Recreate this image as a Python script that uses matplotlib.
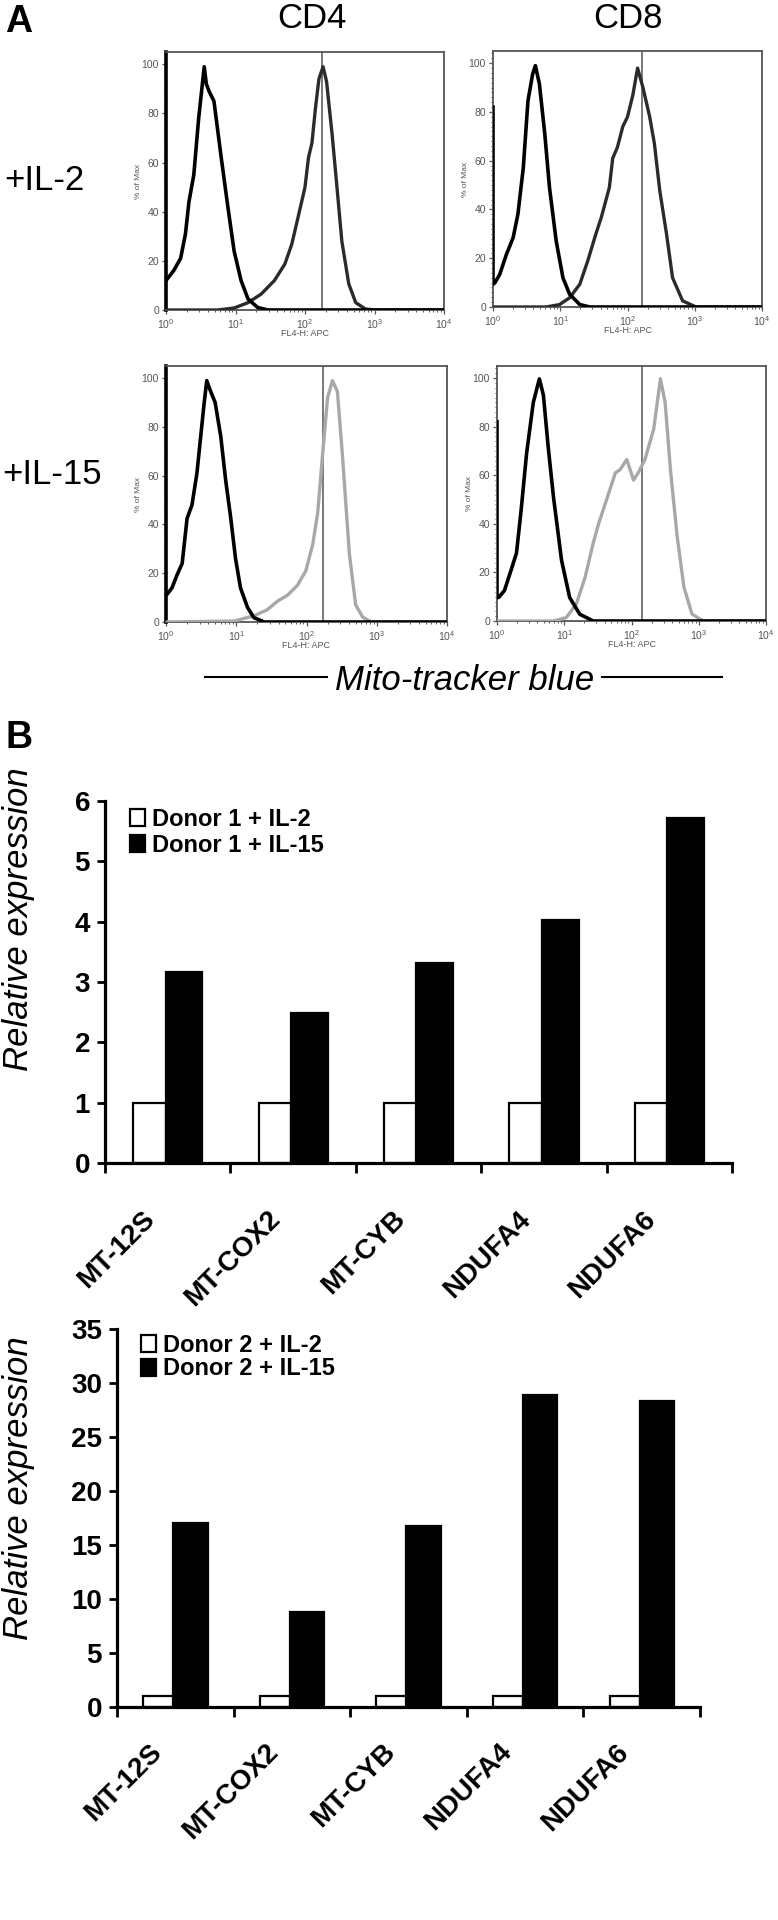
import numpy as np
import matplotlib
matplotlib.use('Agg')
import matplotlib.pyplot as plt
from matplotlib.ticker import MultipleLocator, LogLocator, NullFormatter

plt.rcParams['font.family'] = ['Liberation Sans', 'DejaVu Sans']

W, H = 778, 1920
fig = plt.figure(figsize=(W / 100, H / 100), dpi=100)


def box(x0, y0, x1, y1):
    # pixel box (top-left origin) -> figure axes
    return fig.add_axes([x0 / W, 1 - y1 / H, (x1 - x0) / W, (y1 - y0) / H])


# ---- panel A: histograms, x in log10(FL4-H), y in % of max ----
cd4_il2_neg_x = [0, 0.11, 0.21, 0.28, 0.33, 0.40, 0.47, 0.55, 0.58, 0.62, 0.69, 0.79, 0.89, 0.98, 1.08, 1.18, 1.32, 1.47, 4.0]
cd4_il2_neg_y = [12, 16, 21, 31, 44, 55, 78, 99, 92, 89, 85, 63, 42, 24, 12, 4.5, 1, 0, 0]
cd4_il2_pos_x = [0, 0.74, 0.98, 1.18, 1.37, 1.56, 1.71, 1.81, 1.90, 2.0, 2.05, 2.10, 2.15, 2.20, 2.26, 2.31, 2.39, 2.46, 2.53, 2.63, 2.73, 2.87, 3.02, 4.0]
cd4_il2_pos_y = [0, 0, 0.8, 3, 6.5, 12, 18.7, 26.8, 37.7, 50, 62, 68, 82, 94, 99, 93, 71.5, 50, 28, 10.6, 3, 0.4, 0, 0]

cd8_il2_neg_x = [0, 0, 0.03, 0.1, 0.2, 0.3, 0.37, 0.45, 0.52, 0.59, 0.63, 0.69, 0.77, 0.84, 0.94, 1.04, 1.14, 1.29, 1.44, 4.0]
cd8_il2_neg_y = [82, 9.3, 10, 13.4, 21.6, 28.5, 38, 57, 84.6, 95.6, 99, 91.5, 71, 49, 27, 12, 5.2, 1, 0, 0]
cd8_il2_pos_x = [0, 0.79, 0.99, 1.14, 1.29, 1.41, 1.53, 1.61, 1.73, 1.78, 1.85, 1.93, 2.0, 2.08, 2.15, 2.23, 2.33, 2.40, 2.48, 2.58, 2.67, 2.82, 3.02, 4.0]
cd8_il2_pos_y = [0, 0, 1, 3.8, 9.3, 19, 30, 36.7, 49, 61, 65.5, 74, 78, 87, 98, 90, 78, 67, 47.7, 30, 12, 2.5, 0, 0]

cd4_il15_neg_x = [0, 0.014, 0.085, 0.16, 0.23, 0.30, 0.37, 0.44, 0.49, 0.54, 0.58, 0.63, 0.70, 0.78, 0.85, 0.92, 0.99, 1.06, 1.16, 1.25, 1.4, 4.0]
cd4_il15_neg_y = [12, 11.3, 14, 19.5, 24, 42.5, 48, 61, 75, 89, 99, 95, 90, 76, 58, 43, 26, 14, 6, 1.8, 0, 0]
cd4_il15_pos_x = [0, 0.97, 1.25, 1.44, 1.59, 1.73, 1.87, 1.99, 2.09, 2.16, 2.23, 2.30, 2.37, 2.44, 2.51, 2.61, 2.70, 2.80, 2.92, 4.0]
cd4_il15_pos_y = [0, 0.4, 2.5, 5, 8.6, 11, 15, 21, 32, 45, 69, 92, 99, 94.5, 69, 28, 7, 2, 0, 0]

cd8_il15_neg_x = [0, 0, 0.025, 0.11, 0.21, 0.29, 0.36, 0.44, 0.54, 0.63, 0.69, 0.76, 0.84, 0.96, 1.08, 1.23, 1.43, 4.0]
cd8_il15_neg_y = [82, 9.7, 9.7, 12.5, 21, 28, 46, 69, 90, 99.7, 93, 72, 51, 25, 9.7, 2.8, 0, 0]
cd8_il15_pos_x = [0, 0.84, 1.03, 1.18, 1.31, 1.43, 1.51, 1.63, 1.76, 1.83, 1.93, 2.03, 2.10, 2.20, 2.33, 2.43, 2.50, 2.58, 2.68, 2.78, 2.90, 3.07, 4.0]
cd8_il15_pos_y = [0, 0, 1.4, 7, 18, 32, 40, 50, 61, 62.3, 66.5, 58, 61, 66.5, 79, 99.7, 90, 62, 34.6, 13.9, 2.8, 0, 0]

gate_log = [2.245, 2.21, 2.23, 2.16]

# ---- panel B: qPCR ----
genes = ['MT-12S', 'MT-COX2', 'MT-CYB', 'NDUFA4', 'NDUFA6']
donor1_il2 = [1, 1, 1, 1, 1]
donor1_il15 = [3.17, 2.49, 3.32, 4.03, 5.71]
donor2_il2 = [1, 1, 1, 1, 1]
donor2_il15 = [17.0, 8.8, 16.8, 28.9, 28.3]

hist = [
    ((166, 52, 444, 310), cd4_il2_neg_x, cd4_il2_neg_y, cd4_il2_pos_x, cd4_il2_pos_y, '#2b2b2b', True),
    ((493, 51, 762, 307), cd8_il2_neg_x, cd8_il2_neg_y, cd8_il2_pos_x, cd8_il2_pos_y, '#2b2b2b', False),
    ((166, 366, 447, 622), cd4_il15_neg_x, cd4_il15_neg_y, cd4_il15_pos_x, cd4_il15_pos_y, '#a8a8a8', True),
    ((497, 366, 766, 621), cd8_il15_neg_x, cd8_il15_neg_y, cd8_il15_pos_x, cd8_il15_pos_y, '#a8a8a8', False),
]

for i, (b, nx, ny, px, py, pc, cd4) in enumerate(hist):
    ax = box(*b)
    ax.plot(10 ** np.array(px), py, color=pc, lw=2.4, zorder=3)
    ax.plot(10 ** np.array(nx), ny, color='black', lw=2.6, zorder=4)
    ax.axvline(10 ** gate_log[i], color='#555555', lw=1.1, zorder=2)
    ax.set_xscale('log')
    ax.set_xlim(1, 1e4)
    ax.set_ylim(0, 105)
    ax.set_yticks([0, 20, 40, 60, 80, 100])
    ax.yaxis.set_minor_locator(MultipleLocator(2))
    ax.xaxis.set_minor_locator(LogLocator(base=10, subs=np.arange(2, 10)))
    ax.xaxis.set_minor_formatter(NullFormatter())
    for s in ax.spines.values():
        s.set_color('#555555')
        s.set_linewidth(1.3)
    if cd4:
        ax.spines['left'].set_color('black')
        ax.spines['left'].set_linewidth(2.6)
    ax.tick_params(which='major', labelsize=7.5, colors='#555555', length=3, width=0.9, pad=2)
    ax.tick_params(which='minor', colors='#555555', length=1.6, width=0.7)
    ax.set_xlabel('FL4-H: APC', fontsize=6.5, color='#555555', labelpad=-1)
    ax.set_ylabel('% of Max', fontsize=6, color='#555555', labelpad=0)

fig.text(5 / W, 1 - 22 / H, 'A', fontsize=27, fontweight='bold', va='center', ha='left')
fig.text(312 / W, 1 - 18 / H, 'CD4', fontsize=25, va='center', ha='center')
fig.text(628 / W, 1 - 18 / H, 'CD8', fontsize=25, va='center', ha='center')
fig.text(4 / W, 1 - 181 / H, '+IL-2', fontsize=25, va='center', ha='left')
fig.text(2 / W, 1 - 474 / H, '+IL-15', fontsize=25, va='center', ha='left')
fig.text(465 / W, 1 - 680 / H, 'Mito-tracker blue', fontsize=25, style='italic', va='center', ha='center')
fig.add_artist(plt.Line2D([205 / W, 327 / W], [1 - 677 / H, 1 - 677 / H], color='black', lw=1.5))
fig.add_artist(plt.Line2D([602 / W, 722 / W], [1 - 677 / H, 1 - 677 / H], color='black', lw=1.5))
fig.text(6 / W, 1 - 738 / H, 'B', fontsize=27, fontweight='bold', va='center', ha='left')

bar_charts = [
    ((105, 801, 732, 1163), donor1_il2, donor1_il15, 6, 1, 'Donor 1', (130, 808), 0.12, 919, -31),
    ((117, 1329, 700, 1707), donor2_il2, donor2_il15, 35, 5, 'Donor 2', (141, 1334), 0.02, 1488, -23),
]

for b, lo, hi, top, step, donor, leg_xy, lsp, ylab_y, lab_dy in bar_charts:
    ax = box(*b)
    pos = np.arange(len(genes))
    ax.bar(pos + 0.355, lo, width=0.26, color='white', edgecolor='black', lw=1.6,
           label=donor + ' + IL-2')
    ax.bar(pos + 0.63, hi, width=0.295, color='black', edgecolor='black', lw=1.6,
           label=donor + ' + IL-15')
    ax.set_xlim(0, len(genes))
    ax.set_ylim(0, top)
    ax.set_yticks(np.arange(0, top + step, step))
    ax.set_xticks(np.arange(len(genes) + 1))
    ax.set_xticklabels([])
    # gene names, 45 degrees, top-right corner just left of the category centre
    for k, g in enumerate(genes):
        ax.annotate(g, xy=(k + 0.5, 0), xycoords=('data', 'axes fraction'),
                    xytext=(-19, lab_dy), textcoords='offset points', rotation=45,
                    rotation_mode='anchor', ha='right', va='top',
                    fontsize=20, fontweight='bold', annotation_clip=False)
    for lab in ax.get_yticklabels():
        lab.set_fontweight('bold')
        lab.set_fontsize(20)
    ax.spines['top'].set_visible(False)
    ax.spines['right'].set_visible(False)
    ax.spines['left'].set_linewidth(2.3)
    ax.spines['bottom'].set_linewidth(2.3)
    ax.tick_params(axis='y', length=5.8, width=2, pad=5)
    ax.tick_params(axis='x', which='major', length=7, width=2)
    ax.legend(loc='upper left', bbox_to_anchor=(leg_xy[0] / W, 1 - leg_xy[1] / H),
              bbox_transform=fig.transFigure, frameon=False, handlelength=0.65,
              handleheight=0.75, handletextpad=0.3, labelspacing=lsp, borderpad=0,
              borderaxespad=0, prop={'weight': 'bold', 'size': 17})
    fig.text(19 / W, 1 - ylab_y / H, 'Relative expression', fontsize=25, style='italic',
             rotation=90, va='center', ha='center')

fig.savefig('out.png', dpi=100)
